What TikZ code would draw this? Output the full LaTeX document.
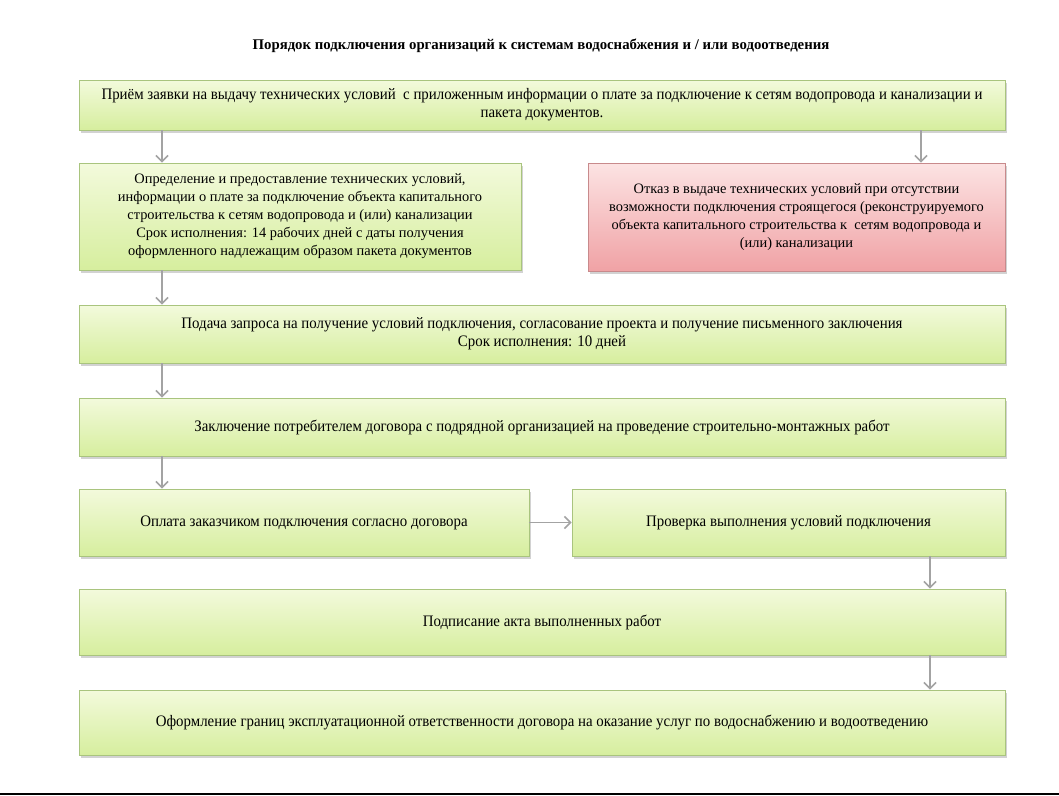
\documentclass[tikz,border=0pt]{standalone}
\usepackage{fontspec}
\setmainfont{Liberation Serif}
\newfontfamily\condfont[FakeStretch=0.93]{Liberation Serif}
\usetikzlibrary{arrows.meta,shadows,calc}
\definecolor{gtop}{HTML}{F3FADC}
\definecolor{gbot}{HTML}{D6EE9E}
\definecolor{gedge}{HTML}{A9C47E}
\definecolor{rtop}{HTML}{FCE3E3}
\definecolor{rbot}{HTML}{F0A2A5}
\definecolor{redge}{HTML}{C88A8C}
\definecolor{arrgray}{HTML}{A3A3A3}
\definecolor{baseline}{HTML}{56789C}
\tikzset{
  gbox/.style={draw=gedge, line width=0.8pt, top color=gtop, bottom color=gbot,
    drop shadow={shadow xshift=2pt, shadow yshift=-2.5pt, opacity=0.35},
    inner sep=0pt, align=center, font=\condfont\fontsize{16}{18}\selectfont},
  nbox/.style={gbox, font=\fontsize{14.4}{18}\selectfont},
  rbox/.style={nbox, draw=redge, top color=rtop, bottom color=rbot},
  arr/.style={draw=arrgray, line width=1.6pt, -{Straight Barb[length=6pt,width=12pt]}},
}
\begin{document}
\begin{tikzpicture}[x=1pt,y=-1pt]
\useasboundingbox (0,0) rectangle (1059,795);
\fill[white] (0,0) rectangle (1059,795);
\node (title) at (541,46) {\fontsize{14.8}{16}\selectfont\bfseries Порядок подключения организаций к системам водоснабжения и / или водоотведения};

\node[gbox, minimum width=926pt, minimum height=50pt] (b1) at (542,105)
 {Приём заявки на выдачу технических условий~ с приложенным информации о плате за подключение к сетям водопровода и канализации и\\ пакета документов.};
\node[nbox, minimum width=442pt, minimum height=107pt] (b2) at (300,216.5)
 {Определение и предоставление технических условий,\\ информации о плате за подключение объекта капитального\\ строительства к сетям водопровода и (или) канализации\\ Срок исполнения: 14 рабочих дней с даты получения\\ оформленного надлежащим образом пакета документов};
\node[rbox, minimum width=417pt, minimum height=108pt] (b3) at (796.5,217)
 {Отказ в выдаче технических условий при отсутствии\\ возможности подключения строящегося (реконструируемого\\ объекта капитального строительства к~ сетям водопровода и\\ (или) канализации};
\node[gbox, minimum width=926pt, minimum height=58pt] (b4) at (542,334)
 {Подача запроса на получение условий подключения, согласование проекта и получение письменного заключения\\ Срок исполнения: 10 дней};
\node[gbox, minimum width=926pt, minimum height=58pt] (b5) at (542,427)
 {Заключение потребителем договора с подрядной организацией на проведение строительно-монтажных работ};
\node[gbox, minimum width=450pt, minimum height=67pt] (b6) at (304,522.5)
 {Оплата заказчиком подключения согласно договора};
\node[gbox, minimum width=433pt, minimum height=67pt] (b7) at (788.5,522.5)
 {Проверка выполнения условий подключения};
\node[gbox, minimum width=926pt, minimum height=66pt] (b8) at (542,622)
 {Подписание акта выполненных работ};
\node[gbox, minimum width=926pt, minimum height=65pt] (b9) at (542,722.5)
 {Оформление границ эксплуатационной ответственности договора на оказание услуг по водоснабжению и водоотведению};

\coordinate (xl) at (162,0);
\coordinate (xr) at (921,0);
\coordinate (xq) at (930,0);
\draw[arr] (b1.south -| xl) -- (b2.north -| xl);
\draw[arr] (b1.south -| xr) -- (b3.north -| xr);
\draw[arr] (b2.south -| xl) -- (b4.north -| xl);
\draw[arr] (b4.south -| xl) -- (b5.north -| xl);
\draw[arr] (b5.south -| xl) -- (b6.north -| xl);
\draw[arr] (b6.east) -- (b7.west);
\draw[arr] (b7.south -| xq) -- (b8.north -| xq);
\draw[arr] (b8.south -| xq) -- (b9.north -| xq);

\fill[baseline] (0,792.5) rectangle (1059,795);
\end{tikzpicture}
\end{document}
